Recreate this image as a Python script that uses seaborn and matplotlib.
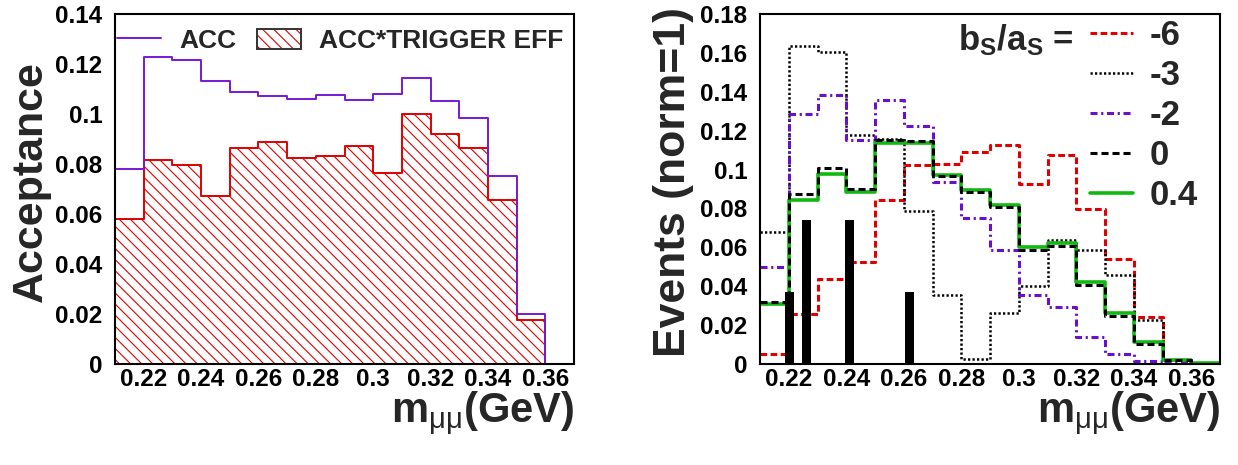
import numpy as np
import matplotlib
matplotlib.use("Agg")
import matplotlib.pyplot as plt
from matplotlib.ticker import MultipleLocator, FuncFormatter
from matplotlib.lines import Line2D
from matplotlib.patches import Patch
from matplotlib.legend_handler import HandlerTuple
import seaborn as sns

# ---- data -----------------------------------------------------------------
# dimuon invariant-mass bins (GeV), 0.01 GeV wide
mass_edges = [0.21, 0.22, 0.23, 0.24, 0.25, 0.26, 0.27, 0.28, 0.29,
              0.30, 0.31, 0.32, 0.33, 0.34, 0.35, 0.36, 0.37]

# geometric acceptance and acceptance x trigger efficiency per bin
acc = [0.0780, 0.1228, 0.1216, 0.1132, 0.1089, 0.1071, 0.1059, 0.1076,
       0.1057, 0.1080, 0.1143, 0.1051, 0.0985, 0.0753, 0.0201, 0.0]
acc_trig_eff = [0.0580, 0.0817, 0.0796, 0.0673, 0.0863, 0.0888, 0.0823, 0.0832,
                0.0871, 0.0764, 0.1001, 0.0919, 0.0863, 0.0657, 0.0176, 0.0]

# normalised mass spectra for several b_S/a_S hypotheses
shape_labels = ["-6", "-3", "-2", "0", "0.4"]
shape_m6 = [0.0053, 0.0259, 0.0439, 0.0525, 0.0845, 0.1025, 0.1027, 0.1089,
            0.1128, 0.0927, 0.1077, 0.0797, 0.0540, 0.0242, 0.0022, 0.0]
shape_m3 = [0.0677, 0.1634, 0.1605, 0.1180, 0.1157, 0.0789, 0.0357, 0.0026,
            0.0262, 0.0403, 0.0639, 0.0585, 0.0458, 0.0228, 0.0019, 0.0005]
shape_m2 = [0.0497, 0.1287, 0.1385, 0.1154, 0.1356, 0.1222, 0.0934, 0.0751,
            0.0585, 0.0357, 0.0291, 0.0139, 0.0053, 0.0014, 0.0005, 0.0]
shape_0 = [0.0319, 0.0874, 0.1006, 0.0902, 0.1154, 0.1145, 0.0969, 0.0885,
           0.0807, 0.0588, 0.0605, 0.0405, 0.0249, 0.0103, 0.0019, 0.0002]
shape_p04 = [0.0309, 0.0843, 0.0979, 0.0885, 0.1137, 0.1137, 0.0974, 0.0897,
             0.0820, 0.0600, 0.0622, 0.0422, 0.0262, 0.0111, 0.0019, 0.0005]

# observed events (normalised)
data_mass = [0.2201, 0.2262, 0.2412, 0.2621]
data_frac = [0.037, 0.074, 0.074, 0.037]

x_ticks = [0.22, 0.24, 0.26, 0.28, 0.30, 0.32, 0.34, 0.36]
y_ticks_acc = [0, 0.02, 0.04, 0.06, 0.08, 0.10, 0.12, 0.14]
y_ticks_evt = [0, 0.02, 0.04, 0.06, 0.08, 0.10, 0.12, 0.14, 0.16, 0.18]

# ---- style ----------------------------------------------------------------
sns.set_style("white")
plt.rcParams["font.family"] = ["Liberation Sans", "DejaVu Sans"]
plt.rcParams["font.weight"] = "bold"
plt.rcParams["axes.labelweight"] = "bold"
plt.rcParams["mathtext.fontset"] = "custom"
plt.rcParams["mathtext.rm"] = "Liberation Sans:weight=normal"
plt.rcParams["mathtext.bf"] = "Liberation Sans:bold"
plt.rcParams["mathtext.it"] = "Liberation Sans:italic"
plt.rcParams["hatch.linewidth"] = 0.8

PURPLE = "#7a18d6"
RED = "#e00000"
GREEN = "#12b812"
VIOLET = "#6a10cc"
HATCH = "\\\\\\"

edges = np.array(mass_edges)
centers = 0.5 * (edges[:-1] + edges[1:])


def step_hist(ax, values, **kws):
    sns.histplot(x=centers, weights=values, bins=list(mass_edges),
                 element="step", ax=ax, **kws)


def style_axes(ax, y_ticks, y_max):
    ax.set_xlim(edges[0], edges[-1])
    ax.set_ylim(0, y_max)
    ax.set_xticks(x_ticks)
    ax.set_yticks(y_ticks)
    ax.xaxis.set_minor_locator(MultipleLocator(0.005))
    ax.yaxis.set_minor_locator(MultipleLocator(0.005))
    fmt = FuncFormatter(lambda v, p: f"{v:.10g}")
    ax.xaxis.set_major_formatter(fmt)
    ax.yaxis.set_major_formatter(fmt)
    ax.tick_params(which="both", direction="in", top=False, right=False,
                   width=1.1, colors="black", labelsize=17.5)
    ax.tick_params(axis="y", which="major", length=9.4, pad=9)
    ax.tick_params(axis="y", which="minor", length=5)
    ax.tick_params(axis="x", which="major", length=8.6, pad=3)
    ax.tick_params(axis="x", which="minor", length=4.5)
    for s in ax.spines.values():
        s.set_visible(True)
        s.set_color("black")
        s.set_linewidth(1.5)
    ax.set_xlabel(r"$\mathbf{m}_{\mathrm{\mu\mu}}$(GeV)", fontsize=30)
    ax.xaxis.set_label_coords(1.0, -0.169)
    ax.xaxis.label.set_horizontalalignment("right")
    ax.xaxis.label.set_verticalalignment("baseline")


fig = plt.figure(figsize=(12.38, 4.65), dpi=100)
ax1 = fig.add_axes([0.0929, 0.2172, 0.3708, 0.7527])
ax2 = fig.add_axes([0.6139, 0.2172, 0.3716, 0.7527])

# ---- left: acceptance -----------------------------------------------------
step_hist(ax1, acc_trig_eff, fill=True, facecolor="white", edgecolor=RED,
          hatch=HATCH, linewidth=1.4, alpha=1)
step_hist(ax1, acc, fill=False, color=PURPLE, linewidth=1.4)
style_axes(ax1, y_ticks_acc, 0.14)
ax1.set_ylabel("Acceptance", fontsize=31)
ax1.yaxis.set_label_coords(-0.1394, 0.52)

h_acc = Line2D([], [], color=PURPLE, lw=1.4)
h_trig = (Patch(facecolor="white", edgecolor=RED, hatch=HATCH, lw=0),
          Patch(facecolor="none", edgecolor="#333333", lw=1.4))
ax1.legend([h_acc, h_trig], ["ACC", "ACC*TRIGGER EFF"], ncol=2,
           handler_map={tuple: HandlerTuple(ndivide=1, pad=0)},
           loc="upper left", bbox_to_anchor=(0.004, 0.958),
           borderaxespad=0, borderpad=0, frameon=False, fontsize=19,
           handlelength=1.67, handleheight=0.8, handletextpad=0.68,
           columnspacing=0.8)

# ---- right: normalised spectra --------------------------------------------
line_specs = [
    (shape_m6, RED, 2.2, (0, (2.2, 1.1))),
    (shape_m3, "black", 1.8, (0, (0.9, 0.9))),
    (shape_m2, VIOLET, 2.2, (0, (2.3, 1.2, 0.7, 1.2))),
    (shape_p04, GREEN, 2.6, "-"),
    (shape_0, "black", 2.2, (0, (2.3, 1.3))),
]
for vals, col, lw, ls in line_specs:
    step_hist(ax2, vals, fill=False, color=col, linewidth=lw, linestyle=ls)

# observed events drawn as solid black bars on top of the spectra
bar_w = 0.0031
c = np.array(data_mass)
bar_edges = np.sort(np.concatenate([c - bar_w / 2, c + bar_w / 2])).tolist()
sns.histplot(x=data_mass, weights=data_frac, bins=bar_edges, element="bars",
             fill=True, color="black", alpha=1, linewidth=0, zorder=3, ax=ax2)

style_axes(ax2, y_ticks_evt, 0.18)
ax2.set_ylabel("Events (norm=1)", fontsize=32)
ax2.yaxis.set_label_coords(-0.1435, 0.52)

handles = [Line2D([], [], color=col, lw=lw, linestyle=ls)
           for _, col, lw, ls in [line_specs[0], line_specs[1], line_specs[2],
                                  line_specs[4], line_specs[3]]]
ax2.legend(handles, shape_labels, loc="upper left",
           bbox_to_anchor=(0.717, 0.986), borderaxespad=0, borderpad=0,
           frameon=False, fontsize=25, handlelength=1.24, handletextpad=0.49,
           labelspacing=0.2)
ax2.text(0.430, 0.897, r"$\mathbf{b_{S}/a_{S}}$ =", transform=ax2.transAxes,
         fontsize=25, fontweight="bold", ha="left", va="baseline")

fig.savefig("out.png", dpi=100)
